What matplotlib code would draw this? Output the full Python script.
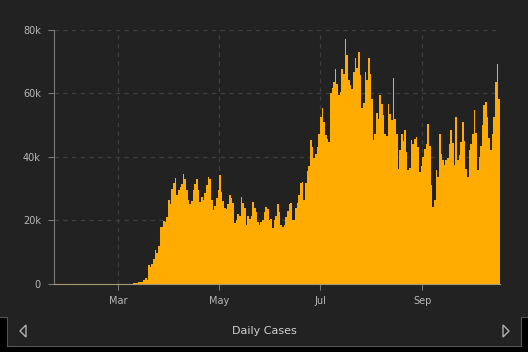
import matplotlib as mpl
mpl.use('Agg')
import matplotlib.pyplot as plt
import matplotlib.dates as mdates
from matplotlib.patches import Rectangle, Polygon
from matplotlib.lines import Line2D
import numpy as np
import pandas as pd

# daily new cases, Jan 22 - Oct 17 2020
jan = [1, 0, 1, 0, 3, 0, 0, 0, 0, 1]
feb = [1, 0, 3, 0, 1, 0, 0, 0, 0, 0, 1, 0, 1, 0, 0, 0, 0, 0, 0, 0,
       2, 0, 0, 0, 0, 1, 1, 2, 8]
mar = [8, 23, 20, 31, 68, 45, 140, 116, 65, 376, 322, 382, 516, 548, 772,
       1133, 1789, 1362, 5894, 5423, 6389, 7787, 10571, 9893, 12038, 18058,
       17821, 19821, 19408, 20922, 26341]
apr = [25200, 30000, 31900, 33300, 28000, 29600, 30500, 31500, 34500, 33000,
       29500, 26400, 25300, 26000, 29500, 31500, 33000, 29500, 25900, 27500,
       26500, 28500, 31000, 33600, 33000, 26500, 23200, 24500, 27000, 29500]
may = [34200, 29000, 26000, 23800, 23500, 25000, 28000, 27000, 25500, 19100,
       20000, 22000, 21500, 27300, 25500, 24000, 18500, 21500, 20500, 21500,
       25800, 24000, 22500, 19500, 18500, 19500, 20000, 22500, 24300, 23500,
       20000]
jun = [20500, 17600, 20000, 21500, 25000, 22500, 18500, 18000, 18500, 21000,
       23000, 25000, 25400, 20000, 20000, 23800, 25500, 28000, 31600, 32000,
       26400, 31900, 35500, 37000, 45200, 43000, 39500, 41000, 43000, 47000]
jul = [52500, 55200, 51000, 46800, 45500, 44700, 59900, 61500, 63600, 67700,
       63000, 59300, 60500, 67700, 66000, 77100, 72000, 64000, 62500, 61400,
       66700, 71000, 68000, 73000, 65600, 55200, 57000, 66700, 64000, 71000,
       66000]
aug = [58300, 45200, 47000, 53600, 52000, 59300, 56700, 53000, 47300, 46500,
       56700, 53500, 51500, 64600, 52000, 47300, 36300, 42000, 47300, 45000,
       48400, 41400, 35800, 36500, 45200, 44000, 45500, 46300, 43000, 35300,
       37000]
sep = [40000, 42500, 44000, 50400, 43500, 31000, 24300, 26500, 35800, 33700,
       47300, 41000, 38900, 37500, 38900, 39500, 44000, 48400, 44300, 37500,
       52500, 38900, 40500, 44500, 51000, 45000, 36000, 33700, 42000, 44000]
octo = [47000, 54600, 47600, 35800, 40000, 43300, 50000, 56200, 57300, 52500,
        46000, 42000, 47000, 52500, 63600, 69000, 58000]

cases = jan + feb + mar + apr + may + jun + jul + aug + sep + octo
edges = pd.date_range('2020-01-22', periods=len(cases) + 1, freq='D')

yticks = [0, 20000, 40000, 60000, 80000]
ytick_labels = ['0', '20k', '40k', '60k', '80k']
title = 'Daily Cases'

W, H = 528, 352
bg = '#222222'


def fx(px):
    return px / W


def fy(py):
    return 1 - py / H


fig = plt.figure(figsize=(W / 100, H / 100), dpi=100, facecolor=bg)
ax = fig.add_axes([fx(54), fy(284), fx(500 - 54), (284 - 29.5) / H])
ax.set_facecolor(bg)

# one bar per day, drawn as a single filled step outline (no seams)
ax.stairs(cases, mdates.date2num(edges), fill=True, color='#ffab00',
          zorder=3)

ax.set_xlim(edges[0], edges[-1])
ax.set_ylim(0, 80000)
ax.set_yticks(yticks)
ax.set_yticklabels(ytick_labels)
ax.xaxis.set_major_locator(mdates.MonthLocator(bymonth=[3, 5, 7, 9]))
ax.xaxis.set_major_formatter(mdates.DateFormatter('%b'))

ax.grid(True, color='#3e3e3e', ls=(0, (3.5, 3.5)), lw=0.9, zorder=0)
for s in ['top', 'right']:
    ax.spines[s].set_visible(False)
ax.spines['left'].set_color('#7a7a7a')
ax.spines['bottom'].set_color('#a8987a')
ax.spines['bottom'].set_zorder(4)
ax.tick_params(axis='both', colors='#7a7a7a', labelcolor='#b8b8b8',
               labelsize=7, length=4.5, width=0.8)
ax.tick_params(axis='y', pad=5)
ax.tick_params(axis='x', pad=4)

# bottom navigation strip
fig.patches.append(Rectangle((0, fy(346)), fx(7), (346 - 317) / H,
                             transform=fig.transFigure, facecolor='black',
                             edgecolor='none'))
fig.patches.append(Rectangle((fx(521), fy(346)), fx(7), (346 - 317) / H,
                             transform=fig.transFigure, facecolor='black',
                             edgecolor='none'))
fig.patches.append(Rectangle((0, 0), 1, fy(346),
                             transform=fig.transFigure, facecolor='black',
                             edgecolor='none'))
for xs, ys in [([0, 7, 7], [317, 317, 346]),
               ([7, 521], [346, 346]),
               ([521, 521, 528], [346, 317, 317])]:
    fig.lines.append(Line2D([fx(v) for v in xs], [fy(v) for v in ys],
                            transform=fig.transFigure, color='#555555', lw=0.8))

fig.patches.append(Polygon([(fx(26), fy(325)), (fx(20), fy(331)),
                            (fx(26), fy(337))], closed=True, fill=False,
                           edgecolor='#b0b0b0', lw=1.0,
                           transform=fig.transFigure))
fig.patches.append(Polygon([(fx(503), fy(325)), (fx(509), fy(331)),
                            (fx(503), fy(337))], closed=True, fill=False,
                           edgecolor='#b0b0b0', lw=1.0,
                           transform=fig.transFigure))
fig.text(fx(264), fy(331), title, color='#d0d0d0', fontsize=8,
         ha='center', va='center')

fig.savefig('out.png', dpi=100, facecolor=bg)
